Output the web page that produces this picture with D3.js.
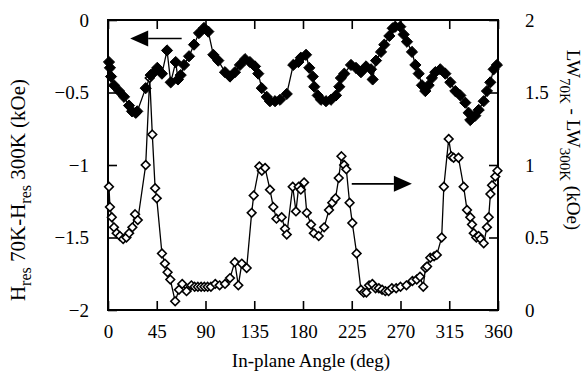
<!DOCTYPE html>
<html>
<head>
<meta charset="utf-8">
<script src="https://cdn.jsdelivr.net/npm/d3@7"></script>
<style>
  html, body { margin: 0; padding: 0; background: #fff; }
  svg { display: block; }
  text { fill: #000; }
</style>
</head>
<body>
<svg id="chart" width="583" height="376"></svg>
<script>
// ---- Data ----
// Filled diamonds (left axis): H_res(70K) - H_res(300K), kOe
const angleFilled = [0.9,1.8,2.8,5.5,10.2,14.8,19.4,22.2,25.6,27,34.8,39.4,42.5,45.5,49.8,54.5,57.9,62.5,64.6,67.1,70.2,74.8,79.4,84,88.6,92.6,97.2,101.8,108,112.6,117.2,121.8,126.5,131,135.7,138.7,141.9,146.5,149.5,154.2,158.8,165,171,175.7,178,182.8,185.8,189,190.4,193.6,196.6,201.2,205.8,210.5,213.5,215,218.1,224.3,228.9,233.5,238.2,242.8,244.3,247.4,252,255,259.7,262.8,265.2,269.8,272.9,276,280.6,283.7,286.8,289.8,292.9,296,299,302.1,306.7,311.4,316,320.6,325.2,329.8,332.9,334.4,339,342.2,346.8,349.8,352.9,356,359];
const hresShift = [-0.29,-0.33,-0.39,-0.45,-0.49,-0.53,-0.59,-0.63,-0.64,-0.63,-0.47,-0.38,-0.36,-0.33,-0.37,-0.21,-0.43,-0.29,-0.41,-0.38,-0.31,-0.25,-0.17,-0.09,-0.055,-0.08,-0.24,-0.28,-0.36,-0.39,-0.36,-0.31,-0.27,-0.29,-0.32,-0.37,-0.47,-0.53,-0.56,-0.56,-0.55,-0.51,-0.31,-0.29,-0.26,-0.24,-0.33,-0.39,-0.46,-0.52,-0.55,-0.56,-0.55,-0.52,-0.46,-0.40,-0.37,-0.31,-0.33,-0.36,-0.32,-0.34,-0.41,-0.28,-0.22,-0.17,-0.11,-0.057,-0.046,-0.046,-0.10,-0.15,-0.22,-0.31,-0.37,-0.45,-0.49,-0.45,-0.40,-0.36,-0.34,-0.37,-0.43,-0.49,-0.52,-0.57,-0.64,-0.69,-0.66,-0.62,-0.56,-0.49,-0.43,-0.34,-0.31];

// Open diamonds (right axis): LW(70K) - LW(300K), kOe
const angleOpen = [0.9,1.8,3.5,5.5,8,11,14,17,19.5,22.5,25,27.5,34.8,38.5,40.9,43.5,45,49.8,52.5,55,57.5,62,65.5,68.5,72.5,77,80,83,86,89,92,95,99,103,108,112.6,117,120.3,123.5,128,132.6,134.5,139.7,142,145,149.5,152.6,155.5,160.3,163.4,165,170.5,173.5,176,178,181,183.5,187.4,190,194.5,199.5,204,207,210,213,215.5,218,220,223,225.5,229.5,233.5,236,238.5,241,244,247,250,253,256,259,262,266,270,275.5,281,285,288,291,293,294.5,297.5,301,303.5,308,310,314.5,317,319,323.5,328.3,331.4,334.4,336,337.6,340,342.2,344,346.8,349.8,351.4,353,354.5,357.5,359.5];
const lwShift = [0.85,0.71,0.64,0.57,0.53,0.51,0.49,0.50,0.53,0.57,0.66,0.62,1.00,1.60,1.21,0.84,0.77,0.39,0.32,0.26,0.21,0.06,0.14,0.18,0.13,0.17,0.16,0.16,0.16,0.16,0.16,0.16,0.18,0.17,0.18,0.22,0.33,0.17,0.32,0.29,0.67,0.79,0.99,0.96,0.98,0.83,0.71,0.63,0.64,0.56,0.52,0.85,0.68,0.85,0.83,0.88,0.67,0.59,0.53,0.51,0.57,0.69,0.74,0.77,0.91,1.06,1.00,0.97,0.74,0.60,0.39,0.14,0.12,0.12,0.17,0.18,0.15,0.15,0.14,0.13,0.13,0.15,0.15,0.16,0.17,0.20,0.21,0.23,0.16,0.29,0.30,0.36,0.37,0.38,0.50,0.85,1.18,1.06,1.05,1.05,0.85,0.69,0.64,0.59,0.53,0.50,0.51,0.49,0.46,0.57,0.64,0.80,0.86,0.92,0.96];

// Tick labels
const xTicks = [0,45,90,135,180,225,270,315,360];
const leftTicks = [-2,-1.5,-1,-0.5,0];
const rightTicks = [0,0.5,1,1.5,2];

// Arrow annotations (in data units): [fromAngle, toAngle, value]
const arrowLeftAxis = [68, 20.5, -0.128];
const arrowRightAxis = [225, 280.5, 0.87];

// ---- Layout ----
const FONT = '"Liberation Serif", "Times New Roman", Tinos, "Nimbus Roman", FreeSerif, "DejaVu Serif", "Noto Serif", Times, serif';
const W = 583, H = 376;
const m = {left: 108, right: 85, top: 20, bottom: 66};
const pw = W - m.left - m.right, ph = H - m.top - m.bottom;

const svg = d3.select("#chart");
const g = svg.append("g").attr("transform", `translate(${m.left},${m.top})`);

const x = d3.scaleLinear().domain([0, 360]).range([0, pw]);
const yL = d3.scaleLinear().domain([-2, 0]).range([ph, 0]);
const yR = d3.scaleLinear().domain([0, 2]).range([ph, 0]);

const TL = 9;
const fs = 19;

// axes (ticks inward)
const axB = g.append("g").attr("transform", `translate(0,${ph})`)
  .call(d3.axisBottom(x).tickValues(xTicks).tickSize(-TL).tickPadding(TL + 6).tickFormat(d3.format("d")));
const axT = g.append("g")
  .call(d3.axisTop(x).tickValues(xTicks).tickSize(-TL).tickFormat(""));
const axL = g.append("g")
  .call(d3.axisLeft(yL).tickValues(leftTicks).tickSize(-TL).tickPadding(TL + 10).tickFormat(d => d3.format("")(d)));
const axR = g.append("g").attr("transform", `translate(${pw},0)`)
  .call(d3.axisRight(yR).tickValues(rightTicks).tickSize(-TL).tickPadding(TL + 18).tickFormat(d => d3.format("")(d)));

[axB, axT, axL, axR].forEach(a => {
  a.attr("font-family", null).attr("font-size", null);
  a.selectAll(".domain").remove();
  a.selectAll(".tick line").attr("stroke", "#000").attr("stroke-width", 1.6);
  a.selectAll(".tick text").attr("font-family", FONT).attr("font-size", fs).attr("fill", "#000");
});

// frame
g.append("rect").attr("x", 0).attr("y", 0).attr("width", pw).attr("height", ph)
  .attr("fill", "none").attr("stroke", "#000").attr("stroke-width", 2);

// series
const filledData = angleFilled.map((a, i) => [a, hresShift[i]]);
const openData = angleOpen.map((a, i) => [a, lwShift[i]]);

const lineL = d3.line().x(d => x(d[0])).y(d => yL(d[1]));
const lineR = d3.line().x(d => x(d[0])).y(d => yR(d[1]));

const sym = d3.symbol().type(d3.symbolDiamond2);

// open series first, filled series drawn on top
g.append("path").datum(openData).attr("d", lineR)
  .attr("fill", "none").attr("stroke", "#000").attr("stroke-width", 1.3);
g.selectAll(".od").data(openData).join("path").attr("class", "od")
  .attr("transform", d => `translate(${x(d[0])},${yR(d[1])})`)
  .attr("d", sym.size(48)())
  .attr("fill", "#fff").attr("stroke", "#000").attr("stroke-width", 1.6);

g.append("path").datum(filledData).attr("d", lineL)
  .attr("fill", "none").attr("stroke", "#000").attr("stroke-width", 1.3);
g.selectAll(".fd").data(filledData).join("path").attr("class", "fd")
  .attr("transform", d => `translate(${x(d[0])},${yL(d[1])})`)
  .attr("d", sym.size(80)())
  .attr("fill", "#000").attr("stroke", "#000").attr("stroke-width", 1);

// arrows
function arrow(x0, x1, yy) {
  const dir = Math.sign(x1 - x0);
  const hl = 18, hw = 8;
  g.append("line").attr("x1", x0).attr("x2", x1 - dir * hl).attr("y1", yy).attr("y2", yy)
    .attr("stroke", "#000").attr("stroke-width", 1.6);
  g.append("path").attr("d", `M${x1},${yy}L${x1 - dir * hl},${yy - hw}L${x1 - dir * hl},${yy + hw}Z`)
    .attr("fill", "#000");
}
arrow(x(arrowLeftAxis[0]), x(arrowLeftAxis[1]), yL(arrowLeftAxis[2]));
arrow(x(arrowRightAxis[0]), x(arrowRightAxis[1]), yR(arrowRightAxis[2]));

// x axis title
svg.append("text").attr("x", 311).attr("y", 367).attr("text-anchor", "middle")
  .attr("font-family", FONT).attr("font-size", fs).text("In-plane Angle (deg)");

// left title
const lt = svg.append("text").attr("text-anchor", "middle")
  .attr("transform", "translate(25,190) rotate(-90)")
  .attr("font-family", FONT).attr("font-size", 21);
lt.append("tspan").text("H");
lt.append("tspan").attr("dy", 6).attr("font-size", 16).text("res");
lt.append("tspan").attr("dy", -6).text(" 70K-H");
lt.append("tspan").attr("dy", 6).attr("font-size", 16).text("res");
lt.append("tspan").attr("dy", -6).text(" 300K (kOe)");

// right title
const rt = svg.append("text").attr("text-anchor", "middle")
  .attr("transform", "translate(567,140) rotate(90)")
  .attr("font-family", FONT).attr("font-size", 19);
rt.append("tspan").text("LW");
rt.append("tspan").attr("dy", 7).attr("font-size", 15).text("70K");
rt.append("tspan").attr("dy", -7).text(" - LW");
rt.append("tspan").attr("dy", 7).attr("font-size", 15).text("300K");
rt.append("tspan").attr("dy", -7).text(" (kOe)");
</script>
</body>
</html>
